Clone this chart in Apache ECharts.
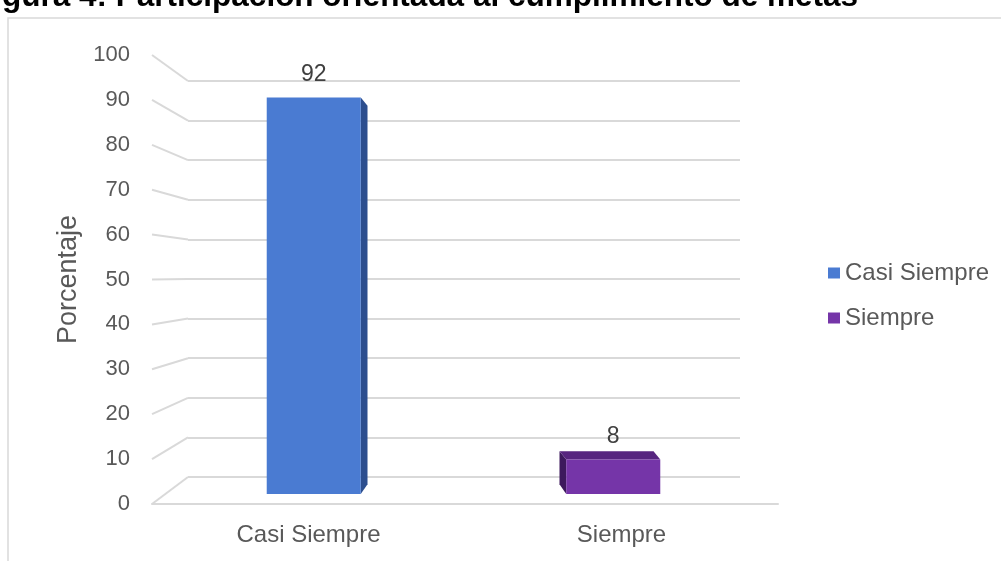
<!DOCTYPE html>
<html>
<head>
<meta charset="utf-8">
<script src="https://cdn.jsdelivr.net/npm/echarts@6/dist/echarts.min.js"></script>
<style>
  html, body { margin: 0; padding: 0; background: #ffffff; }
  #chart { width: 1001px; height: 561px; }
</style>
</head>
<body>
<div id="chart"></div>
<script>
// Survey result: share of answers per frequency option
const categories = ['Casi Siempre', 'Siempre'];
const percentages = [92, 8];
const yMin = 0;
const yMax = 100;
const yStep = 10;
const titleText = 'Figura 4: Participación orientada al cumplimiento de metas';
const yAxisTitle = 'Porcentaje';

// Face colours of the pseudo-3D columns (front, side, top)
const palette = [
  { front: '#4a7bd2', side: '#2c4e8e', top: '#3a63ad' },
  { front: '#7535a8', side: '#3d195d', top: '#57257f' }
];

// Three planes: front edge (labels), back wall (gridlines), column plane
const layout = {
  front: { left: 152, right: 223, top: 55, bottom: 57 },
  back:  { left: 188, right: 261, top: 81, bottom: 84 },
  bars:  { left: 164, right: 238, top: 63, bottom: 67 }
};

const FONT = "'Liberation Sans', Arial, sans-serif";
const TEXT_GREY = '#595959';
const GRID_GREY = '#d9d9d9';
const DEPTH = 0.045;      // share of the distance to the vanishing point used as column depth
const BAR_RATIO = 0.314;  // column width relative to the category band

const chart = echarts.init(document.getElementById('chart'), null, { renderer: 'canvas' });

function renderColumn(params, api) {
  const cat = api.value(0);
  const val = api.value(1);
  const top = api.coord([cat, val]);
  const base = api.coord([cat, 0]);
  const band = api.size([1, 0])[0];
  const w = band * BAR_RATIO;
  const cs = params.coordSys;
  const vx = cs.x + cs.width / 2;
  const vy = cs.y + cs.height / 2;
  const cx = top[0];
  const x0 = cx - w / 2, x1 = cx + w / 2;
  const yT = top[1], yB = base[1];
  const dx = DEPTH * (vx - cx);
  const dyT = DEPTH * (vy - yT);
  const dyB = DEPTH * (vy - yB);
  const col = palette[cat];
  const children = [];
  const sx = dx > 0 ? x1 : x0;
  children.push({
    type: 'polygon',
    shape: { points: [[sx, yT], [sx + dx, yT + dyT], [sx + dx, yB + dyB], [sx, yB]] },
    style: { fill: col.side }
  });
  if (dyT < 0) {
    children.push({
      type: 'polygon',
      shape: { points: [[x0, yT], [x1, yT], [x1 + dx, yT + dyT], [x0 + dx, yT + dyT]] },
      style: { fill: col.top }
    });
  }
  children.push({
    type: 'rect',
    shape: { x: x0, y: yT, width: w, height: yB - yT },
    style: { fill: col.front }
  });
  children.push({
    type: 'text',
    style: {
      text: String(val),
      x: cx, y: yT - 23,
      align: 'center', verticalAlign: 'middle',
      fill: '#404040',
      font: '23px ' + FONT
    }
  });
  return { type: 'group', children: children };
}

const option = {
  animation: false,
  backgroundColor: '#ffffff',
  textStyle: { fontFamily: FONT },
  legend: {
    orient: 'vertical',
    left: 823,
    top: 256,
    itemWidth: 12,
    itemHeight: 11,
    itemGap: 21,
    icon: 'rect',
    data: categories,
    textStyle: { color: TEXT_GREY, fontSize: 24, fontFamily: FONT }
  },
  grid: [
    Object.assign({ containLabel: false }, layout.front),
    Object.assign({ containLabel: false }, layout.back),
    Object.assign({ containLabel: false }, layout.bars)
  ],
  xAxis: [
    {
      gridIndex: 0, type: 'category', data: categories,
      axisLine: { show: true, lineStyle: { color: GRID_GREY, width: 2 } },
      axisTick: { show: false },
      axisLabel: { color: TEXT_GREY, fontSize: 24, fontFamily: FONT, margin: 19 }
    },
    { gridIndex: 1, type: 'category', data: categories, show: false },
    { gridIndex: 2, type: 'category', data: categories, show: false }
  ],
  yAxis: [
    {
      gridIndex: 0, type: 'value', min: yMin, max: yMax, interval: yStep,
      name: yAxisTitle, nameLocation: 'middle', nameGap: 70, nameRotate: 90,
      nameTextStyle: { color: TEXT_GREY, fontSize: 27, fontFamily: FONT },
      axisLine: { show: false }, axisTick: { show: false }, splitLine: { show: false },
      axisLabel: { color: TEXT_GREY, fontSize: 22, fontFamily: FONT, margin: 22 }
    },
    {
      gridIndex: 1, type: 'value', min: yMin, max: yMax, interval: yStep,
      axisLine: { show: false }, axisTick: { show: false }, axisLabel: { show: false },
      splitLine: { show: true, lineStyle: { color: GRID_GREY, width: 2 } }
    },
    {
      gridIndex: 2, type: 'value', min: yMin, max: yMax, interval: yStep,
      show: false, splitLine: { show: false }
    }
  ],
  series: categories.map(function (name, i) {
    return {
      name: name,
      type: 'custom',
      xAxisIndex: 2,
      yAxisIndex: 2,
      clip: false,
      z: 5,
      itemStyle: { color: palette[i].front },
      renderItem: renderColumn,
      data: [[i, percentages[i]]]
    };
  })
};

chart.setOption(option);

// Side-wall lines joining each gridline on the back wall to its tick on the front edge,
// plus the outer border and the heading.
const graphics = [];
for (let v = yMin; v <= yMax; v += yStep) {
  const yFront = chart.convertToPixel({ yAxisIndex: 0 }, v);
  const yBack = chart.convertToPixel({ yAxisIndex: 1 }, v);
  graphics.push({
    type: 'line', z: 1, silent: true,
    shape: { x1: layout.front.left, y1: yFront, x2: layout.back.left, y2: yBack },
    style: { stroke: GRID_GREY, lineWidth: 2 }
  });
}
graphics.push({
  type: 'rect', z: 0, silent: true,
  shape: { x: 8, y: 18, width: 1000, height: 560 },
  style: { fill: 'none', stroke: GRID_GREY, lineWidth: 1.5 }
});
graphics.push({
  type: 'text', z: 10, silent: true,
  style: {
    text: titleText,
    x: 858, y: 13,
    align: 'right', verticalAlign: 'bottom',
    fill: '#000000',
    font: 'bold 31.5px ' + FONT
  }
});
chart.setOption({ graphic: graphics });
</script>
</body>
</html>
